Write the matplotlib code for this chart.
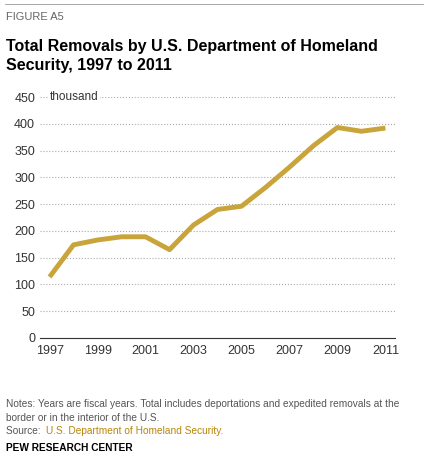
import matplotlib.pyplot as plt

years = [1997, 1998, 1999, 2000, 2001, 2002, 2003, 2004, 2005, 2006, 2007, 2008, 2009, 2010, 2011]
removals = [114, 174, 183, 189, 189, 165, 211, 240, 246, 281, 319, 359, 393, 386, 392]
yticks = [0, 50, 100, 150, 200, 250, 300, 350, 400, 450]
xticks = [1997, 1999, 2001, 2003, 2005, 2007, 2009, 2011]

plt.rcParams['font.family'] = ['Liberation Sans', 'DejaVu Sans']
fig = plt.figure(figsize=(4.28, 4.63), dpi=100)
ax = fig.add_axes([40 / 428, 1 - 338 / 463, (395 - 40) / 428, (338 - 97) / 463])

ax.plot(years, removals, color='#C9A43A', lw=3.5, solid_capstyle='butt')
ax.set_ylim(0, 450)
ax.set_xlim(1996.6, 2011.4)
ax.set_yticks(yticks)
ax.set_xticks(xticks)
ax.tick_params(labelsize=9, length=0, colors='#333333')
ax.tick_params(axis='x', pad=5)
ax.grid(axis='y', color='#aaaaaa', linestyle=':', lw=0.8)
for s in ['top', 'right', 'left']:
    ax.spines[s].set_visible(False)
ax.spines['bottom'].set_color('#333333')
ax.text(1997.0, 450, 'thousand', fontsize=8.5, va='center', color='#333333',
        bbox=dict(facecolor='white', edgecolor='none', pad=1))

fig.lines.append(plt.Line2D([5 / 428, 423 / 428], [1 - 4 / 463] * 2, color='#999999', lw=0.6, transform=fig.transFigure))
fig.text(6 / 428, 1 - 17 / 463, 'FIGURE A5', fontsize=8, color='#666666', va='center')
fig.text(6 / 428, 1 - 56 / 463, 'Total Removals by U.S. Department of Homeland\nSecurity, 1997 to 2011',
         fontsize=11.5, fontweight='bold', va='center', linespacing=1.3)
fig.text(6 / 428, 1 - 411 / 463,
         'Notes: Years are fiscal years. Total includes deportations and expedited removals at the\nborder or in the interior of the U.S.',
         fontsize=7.3, color='#555555', va='center', linespacing=1.4)
src = fig.text(6 / 428, 1 - 431 / 463, 'Source: ', fontsize=7.3, color='#555555', va='center')
fig.canvas.draw()
bb = src.get_window_extent()
fig.text(bb.x1 / 428 + 2 / 428, 1 - 431 / 463, 'U.S. Department of Homeland Security.', fontsize=7.3,
         color='#B8860B', va='center')
fig.text(6 / 428, 1 - 448 / 463, 'PEW RESEARCH CENTER', fontsize=7.3, fontweight='bold', va='center')

fig.savefig('out.png', dpi=100)
